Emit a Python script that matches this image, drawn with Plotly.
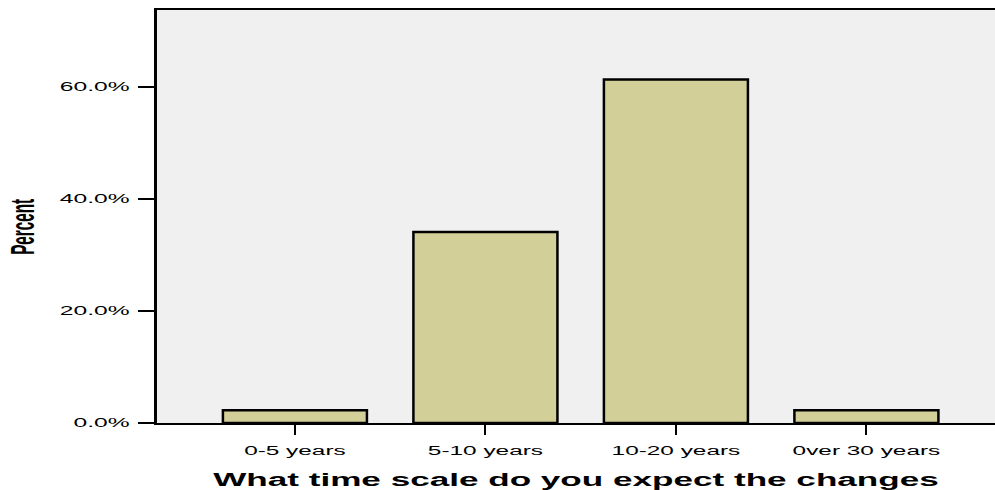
import plotly.graph_objects as go

categories = ["0-5 years", "5-10 years", "10-20 years", "0ver 30 years"]
percent_values = [2.27, 34.09, 61.36, 2.27]
y_tick_values = [0, 20, 40, 60]
y_tick_labels = ["0.0%", "20.0%", "40.0%", "60.0%"]
y_title = "Percent"
x_title = "What time scale do you expect the changes"

FONT = "Liberation Sans, Arial, sans-serif"

fig = go.Figure()
fig.add_trace(go.Bar(
    x=categories,
    y=percent_values,
    marker=dict(color="#d3cf98", line=dict(color="black", width=2.5)),
    width=0.756,
))

fig.update_layout(
    width=995, height=490,
    margin=dict(l=157, r=0, t=10, b=67),
    paper_bgcolor="white",
    plot_bgcolor="#f0f0f0",
    showlegend=False,
    font=dict(family=FONT, color="black"),
)
fig.update_xaxes(
    type="category",
    range=[-0.724, 3.675],
    showline=True, linecolor="black", linewidth=1.5, mirror=True,
    ticks="outside", ticklen=10, tickwidth=2, tickcolor="black",
    tickfont=dict(size=12.5), ticklabelstandoff=5,
    showgrid=False,
    title=dict(text=x_title, font=dict(size=18, weight="bold"), standoff=18),
)
fig.update_yaxes(
    range=[0, 73.75],
    tickvals=y_tick_values, ticktext=y_tick_labels,
    showline=True, linecolor="black", linewidth=3,
    ticks="outside", ticklen=16, tickwidth=1.5, tickcolor="black",
    tickfont=dict(size=12), ticklabelstandoff=6,
    showgrid=False, zeroline=False,
)
# y-axis title, placed slightly below the plot centre as in the reference
fig.add_annotation(
    text=y_title, textangle=-90,
    xref="paper", yref="paper", x=0, y=0.474,
    xanchor="center", yanchor="middle", xshift=-135,
    showarrow=False, font=dict(size=34, weight="bold"),
)

# remove the page margin, and draw the text horizontally stretched (wide glyphs) as in the reference
post = """
document.body.style.margin = '0';
var gd = document.getElementById('{plot_id}');
function stretchText(){
  var rules = [['.xtick text', 1.95], ['.ytick text', 2.05], ['.xtitle', 1.95]];
  rules.forEach(function(r){
    gd.querySelectorAll(r[0]).forEach(function(t){
      var w = t.getComputedTextLength();
      t.setAttribute('textLength', (w * r[1]).toFixed(1));
      t.setAttribute('lengthAdjust', 'spacingAndGlyphs');
    });
  });
  gd.querySelectorAll('.annotation-text').forEach(function(t){
    t.setAttribute('textLength', '56');
    t.setAttribute('lengthAdjust', 'spacingAndGlyphs');
  });
}
stretchText();
"""

fig.write_html("out.html", post_script=post, config={"displayModeBar": False})
